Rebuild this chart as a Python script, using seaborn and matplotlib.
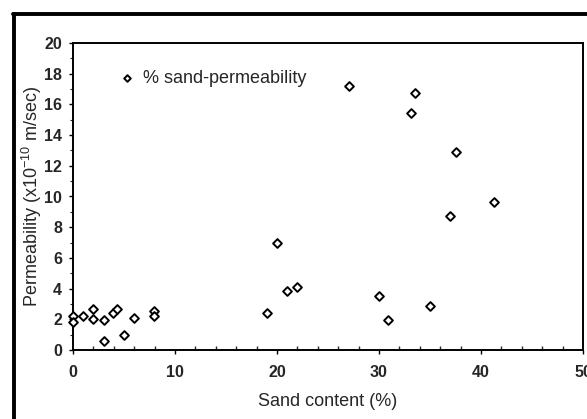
import matplotlib.pyplot as plt
import matplotlib.lines as mlines
from matplotlib.ticker import MultipleLocator
import pandas as pd
import seaborn as sns

# values
sand = [0, 0, 1, 2, 2, 3, 3, 3.95, 4.35, 5, 6, 7.95, 7.95,
        19, 20, 21, 22, 27.05, 30, 30.85, 33.1, 33.5, 35, 37, 37.5, 41.3]
perm = [2.2, 1.85, 2.2, 2.65, 2.0, 1.93, 0.58, 2.43, 2.7, 1.0, 2.1, 2.54, 2.2,
        2.39, 6.95, 3.86, 4.12, 17.22, 3.5, 1.95, 15.42, 16.74, 2.87, 8.73, 12.92, 9.66]

df = pd.DataFrame({'Sand content (%)': sand, 'Permeability': perm})

sns.set_style('white')
plt.rcParams['font.family'] = ['Liberation Sans', 'DejaVu Sans']
plt.rcParams['mathtext.fontset'] = 'custom'
plt.rcParams['mathtext.rm'] = 'Liberation Sans'

fig = plt.figure(figsize=(5.87, 4.19), dpi=100)
ax = fig.add_axes([73 / 587, 1 - 350 / 419, 510 / 587, 307 / 419])

sns.scatterplot(
    data=df, x='Sand content (%)', y='Permeability', ax=ax,
    marker='D', s=20, facecolor='white', edgecolor='black', linewidth=1.4,
    label='% sand-permeability', zorder=3, clip_on=False,
)

ax.set_xlim(0, 50)
ax.set_ylim(0, 20)
ax.xaxis.set_major_locator(MultipleLocator(10))
ax.xaxis.set_minor_locator(MultipleLocator(2))
ax.yaxis.set_major_locator(MultipleLocator(2))
ax.yaxis.set_minor_locator(MultipleLocator(1))

ax.tick_params(which='major', direction='out', length=3, width=1, color='black',
               labelsize=11.5, bottom=True, left=True)
ax.tick_params(axis='x', which='major', pad=8)
ax.tick_params(axis='y', which='major', pad=5)
ax.tick_params(axis='x', which='minor', direction='in', length=3, width=1, bottom=True)
ax.tick_params(axis='y', which='minor', direction='out', length=2, width=0.8, left=True)
for lab in ax.get_xticklabels() + ax.get_yticklabels():
    lab.set_fontweight('bold')

for side in ['left', 'bottom', 'top', 'right']:
    ax.spines[side].set_visible(True)
    ax.spines[side].set_color('black')
    ax.spines[side].set_linewidth(1.4)

ax.set_xlabel('Sand content (%)', fontsize=13, labelpad=9)
ax.set_ylabel(r'Permeability (x10$^{-10}$ m/sec)', fontsize=13, labelpad=0)

leg = ax.legend(loc='upper left', bbox_to_anchor=(0.059, 0.966), frameon=False,
                fontsize=13, handlelength=0.8, handletextpad=0.5, markerscale=0.75)

# thick frame of the scanned page
fig.add_artist(mlines.Line2D([14.5 / 587, 14.5 / 587], [0, 1 - 14 / 419],
                             color='black', lw=2.8, transform=fig.transFigure))
fig.add_artist(mlines.Line2D([13 / 587, 1], [1 - 14 / 419, 1 - 14 / 419],
                             color='black', lw=2.8, transform=fig.transFigure))

fig.savefig('out.png', dpi=100)
